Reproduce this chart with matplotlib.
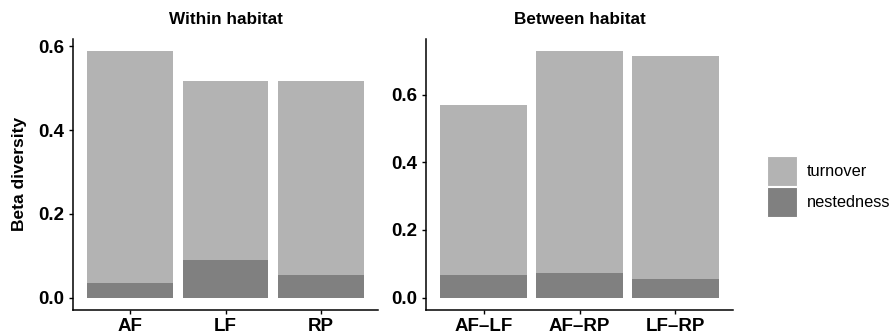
import matplotlib.pyplot as plt
from matplotlib.patches import Patch

plt.rcParams['font.family'] = ['Liberation Sans', 'DejaVu Sans']

# data
within_sites = ['AF', 'LF', 'RP']
within_nested = [0.036, 0.089, 0.054]
within_turnover = [0.552, 0.427, 0.462]

between_sites = ['AF–LF', 'AF–RP', 'LF–RP']
between_nested = [0.068, 0.072, 0.054]
between_turnover = [0.500, 0.656, 0.659]

c_turn = '#b3b3b3'
c_nest = '#808080'

fig = plt.figure(figsize=(8.94, 3.35), dpi=100)
ax1 = fig.add_axes([73 / 894, 1 - 310 / 335, 305 / 894, 271 / 335])
ax2 = fig.add_axes([426 / 894, 1 - 310 / 335, 307 / 894, 271 / 335])


def draw(ax, sites, nested, turnover, title):
    x = list(range(len(sites)))
    ax.bar(x, nested, 0.9, color=c_nest, linewidth=0)
    ax.bar(x, turnover, 0.9, bottom=nested, color=c_turn, linewidth=0)
    top = max(n + t for n, t in zip(nested, turnover))
    ax.set_ylim(-0.05 * top, 1.05 * top)
    ax.set_xlim(-0.6, len(sites) - 0.4)
    ax.set_xticks(x)
    ax.set_xticklabels(sites)
    ax.set_yticks([0.0, 0.2, 0.4, 0.6])
    ax.set_yticklabels(['0.0', '0.2', '0.4', '0.6'])
    for s in ['top', 'right']:
        ax.spines[s].set_visible(False)
    for s in ['left', 'bottom']:
        ax.spines[s].set_linewidth(1.1)
    ax.tick_params(length=3, width=1.0, colors='black', pad=3)
    for lab in ax.get_xticklabels() + ax.get_yticklabels():
        lab.set_fontsize(13.5)
        lab.set_fontweight('bold')
    ax.set_title(title, fontsize=12.3, fontweight='bold', pad=11)


draw(ax1, within_sites, within_nested, within_turnover, 'Within habitat')
draw(ax2, between_sites, between_nested, between_turnover, 'Between habitat')

fig.text(20 / 894, 1 - 174 / 335, 'Beta diversity', rotation=90,
         ha='center', va='center', fontsize=12.5, fontweight='bold')

handles = [Patch(facecolor=c_turn, edgecolor='white', linewidth=0.8),
           Patch(facecolor=c_nest, edgecolor='white', linewidth=0.8)]
fig.legend(handles, ['turnover', 'nestedness'], loc='upper left',
           bbox_to_anchor=(767 / 894, 1 - 156 / 335), frameon=False,
           fontsize=11.8, borderpad=0, borderaxespad=0, handlelength=1.85,
           handleheight=2.45, labelspacing=0.05, handletextpad=0.6)

plt.savefig('out.png', dpi=100)
